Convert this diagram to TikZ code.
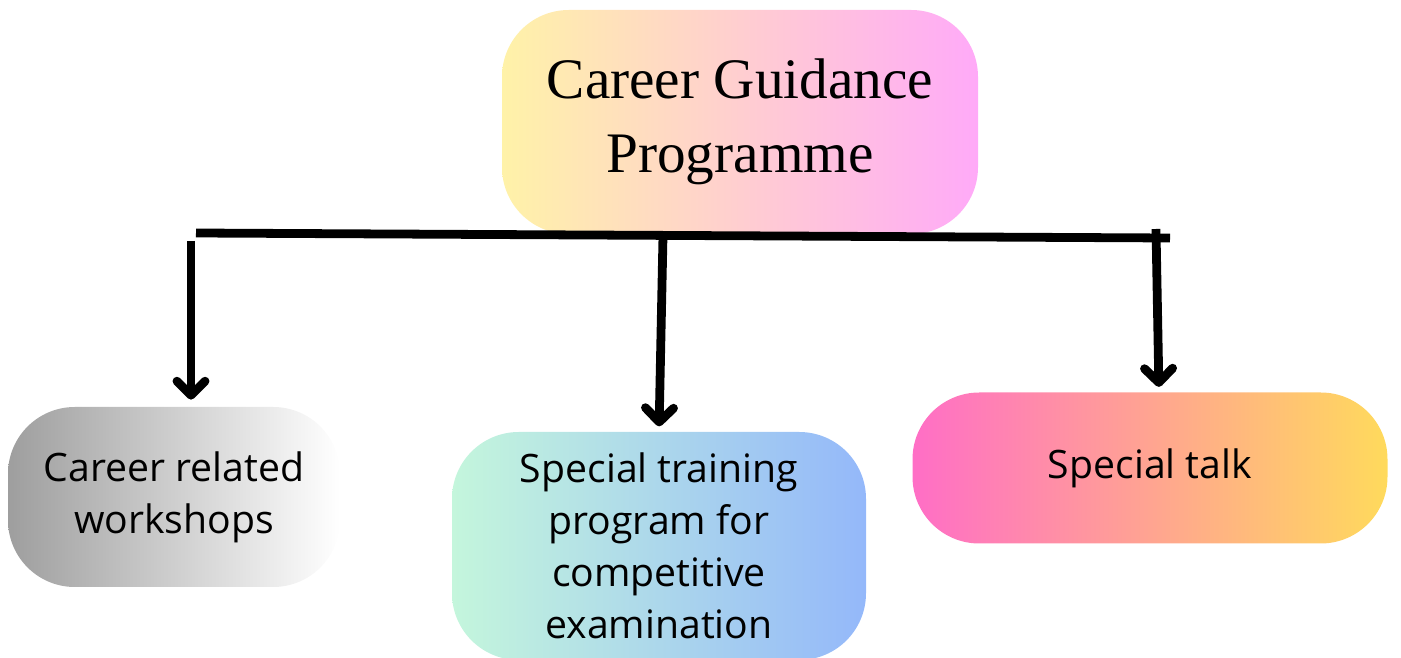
\documentclass[tikz,border=0pt]{standalone}
\usepackage{fontspec}
\setmainfont{Liberation Serif}
\newfontfamily\boxfont{Open Sans}
\usetikzlibrary{arrows.meta,positioning}
\definecolor{headyellow}{RGB}{255,242,168}
\definecolor{headpink}{RGB}{255,170,248}
\definecolor{wsgray}{RGB}{158,158,158}
\definecolor{trmint}{RGB}{196,246,220}
\definecolor{trblue}{RGB}{148,184,250}
\definecolor{tkpink}{RGB}{255,110,198}
\definecolor{tkyellow}{RGB}{255,218,92}

\begin{document}
\begin{tikzpicture}[x=0.02cm, y=-0.02cm,
      b/.style={rectangle, rounded corners=38pt, align=center, inner sep=0pt,
                font=\boxfont\fontsize{22.3}{29.7}\selectfont},
      bar/.style={line width=5pt, black},
      arr/.style={line width=5pt, black, -{Straight Barb[length=8pt, width=16pt, line cap=round, line join=round]}}]
    \useasboundingbox (0,0) rectangle (1401,658);
    \node[b, left color=headyellow, right color=headpink,
          minimum width=476*0.02cm, minimum height=224*0.02cm,
          font=\fontsize{32.6}{42}\selectfont] (cgp) at (740,122) {Career Guidance\\Programme};
    \node[b, left color=wsgray, right color=white,
          minimum width=332*0.02cm, minimum height=180*0.02cm] (wk) at (174,497) {Career related\\workshops};
    \node[b, left color=trmint, right color=trblue,
          minimum width=414*0.02cm, minimum height=228*0.02cm] (tr) at (659,546)
          {Special training\\program for\\competitive\\examination};
    \node[b, left color=tkpink, right color=tkyellow,
          minimum width=475*0.02cm, minimum height=151*0.02cm] (tk) at (1150,468) {Special talk};
    % branch line under the title
    \coordinate (bl) at (196,233);
    \coordinate (br) at (1170,238);
    \draw[bar] (bl) -- (br);
    \coordinate (jl) at (191,241);
    \coordinate (jm) at (663,236);
    \coordinate (jr) at (1156,229);
    \draw[arr, shorten >=4pt] (jl) -- (jl |- wk.north);
    \draw[arr, shorten >=3pt] (jm) -- (tr.north);
    \draw[arr, shorten >=3pt] (jr) -- ([xshift=9*0.02cm]tk.north);
  \end{tikzpicture}
\end{document}
